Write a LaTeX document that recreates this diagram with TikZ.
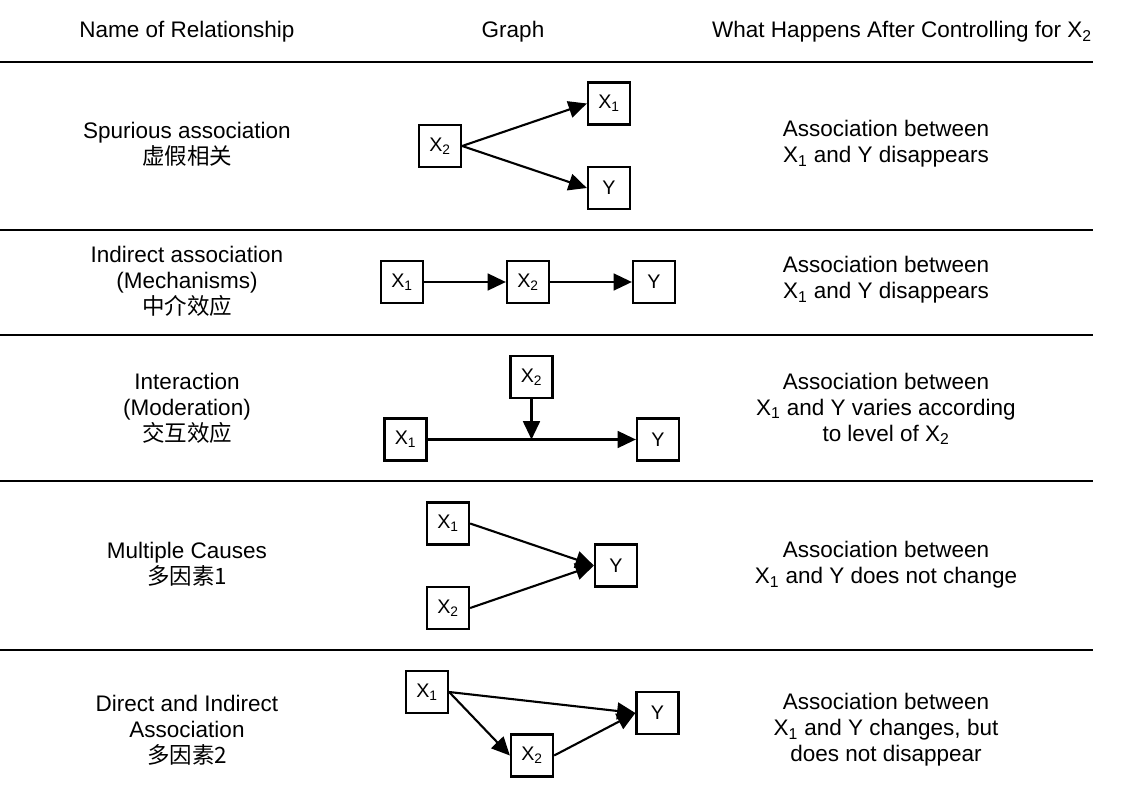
\documentclass[tikz,border=0pt]{standalone}
\usepackage{fontspec}
\setmainfont{Liberation Sans}
\newfontfamily\cjk{Noto Sans CJK SC}
\usetikzlibrary{arrows.meta}
\newcommand{\xone}{X\textsubscript{1}}
\newcommand{\xtwo}{X\textsubscript{2}}

\begin{document}
\begin{tikzpicture}[x=0.025cm,y=-0.025cm,
		font=\fontsize{16}{18.4}\selectfont,
		var/.style={draw,line width=1.6pt,minimum size=1.05cm,inner sep=0pt,font=\fontsize{14}{16}\selectfont},
		eff/.style={-{Triangle[length=13pt,width=12pt]},line width=1.5pt},
		rule/.style={line width=1.5pt},
		txt/.style={align=center}]
			\useasboundingbox (0,0) rectangle (1123,801);
			\node[txt] (h1) at (187,32) {Name of Relationship};
			\node[txt] (h2) at (513,32) {Graph};
			\node[txt] (h3) at (902,32) {What Happens After Controlling for \xtwo};
			\draw [rule] (0,62) -- (1093,62);
			\draw [rule] (0,230) -- (1093,230);
			\draw [rule] (0,335) -- (1093,335);
			\draw [rule] (0,481) -- (1093,481);
			\draw [rule] (0,650) -- (1093,650);
			\node[txt] (na) at (187,144) {Spurious association\\{\cjk 虚假相关}};
			\node[var] (xa2) at (440,146) {\xtwo};
			\node[var] (xa1) at (609,103.5) {\xone};
			\node[var] (ya) at (609,188) {Y};
			\draw [eff] (xa2.east) to (xa1.west);
			\draw [eff] (xa2.east) to (ya.west);
			\node[txt] (ra) at (886,144) {Association between\\\xone{} and Y disappears};
			\node[txt] (nb) at (187,281) {Indirect association\\(Mechanisms)\\{\cjk 中介效应}};
			\node[var] (xb1) at (402,282) {\xone};
			\node[var] (xb2) at (528,282) {\xtwo};
			\node[var] (yb) at (654,282) {Y};
			\draw [eff] (xb1) to (xb2);
			\draw [eff] (xb2) to (yb);
			\node[txt] (rb) at (886,280) {Association between\\\xone{} and Y disappears};
			\node[txt] (nc) at (187,408) {Interaction\\(Moderation)\\{\cjk 交互效应}};
			\node[var] (xc2) at (531.5,377) {\xtwo};
			\node[var] (xc1) at (405.5,439.5) {\xone};
			\node[var] (yc) at (658,439.5) {Y};
			\coordinate (mc) at (531.5,439.5);
			\draw [eff] (xc1) to (yc);
			\draw [eff] (xc2) to (mc);
			\node[txt] (rc) at (886,409) {Association between\\\xone{} and Y varies according\\to level of \xtwo};
			\node[txt] (nd) at (187,564) {Multiple Causes\\{\cjk 多因素1}};
			\node[var] (xd1) at (448,523.5) {\xone};
			\node[var] (xd2) at (448,608) {\xtwo};
			\node[var] (yd) at (616,565.5) {Y};
			\draw [eff] (xd1.east) to (yd.west);
			\draw [eff] (xd2.east) to (yd.west);
			\node[txt] (rd) at (886,565) {Association between\\\xone{} and Y does not change};
			\node[txt] (ne) at (187,730) {Direct and Indirect\\Association\\{\cjk 多因素2}};
			\node[var] (xe1) at (427,692) {\xone};
			\node[var] (ye) at (657.5,713) {Y};
			\node[var] (xe2) at (532,755.5) {\xtwo};
			\draw [eff] (xe1.east) to (ye.west);
			\draw [eff] (xe1.east) to (xe2.west);
			\draw [eff] (xe2.east) to (ye.west);
			\node[txt] (re) at (886,730) {Association between\\\xone{} and Y changes, but\\does not disappear};
		\end{tikzpicture}
\end{document}
